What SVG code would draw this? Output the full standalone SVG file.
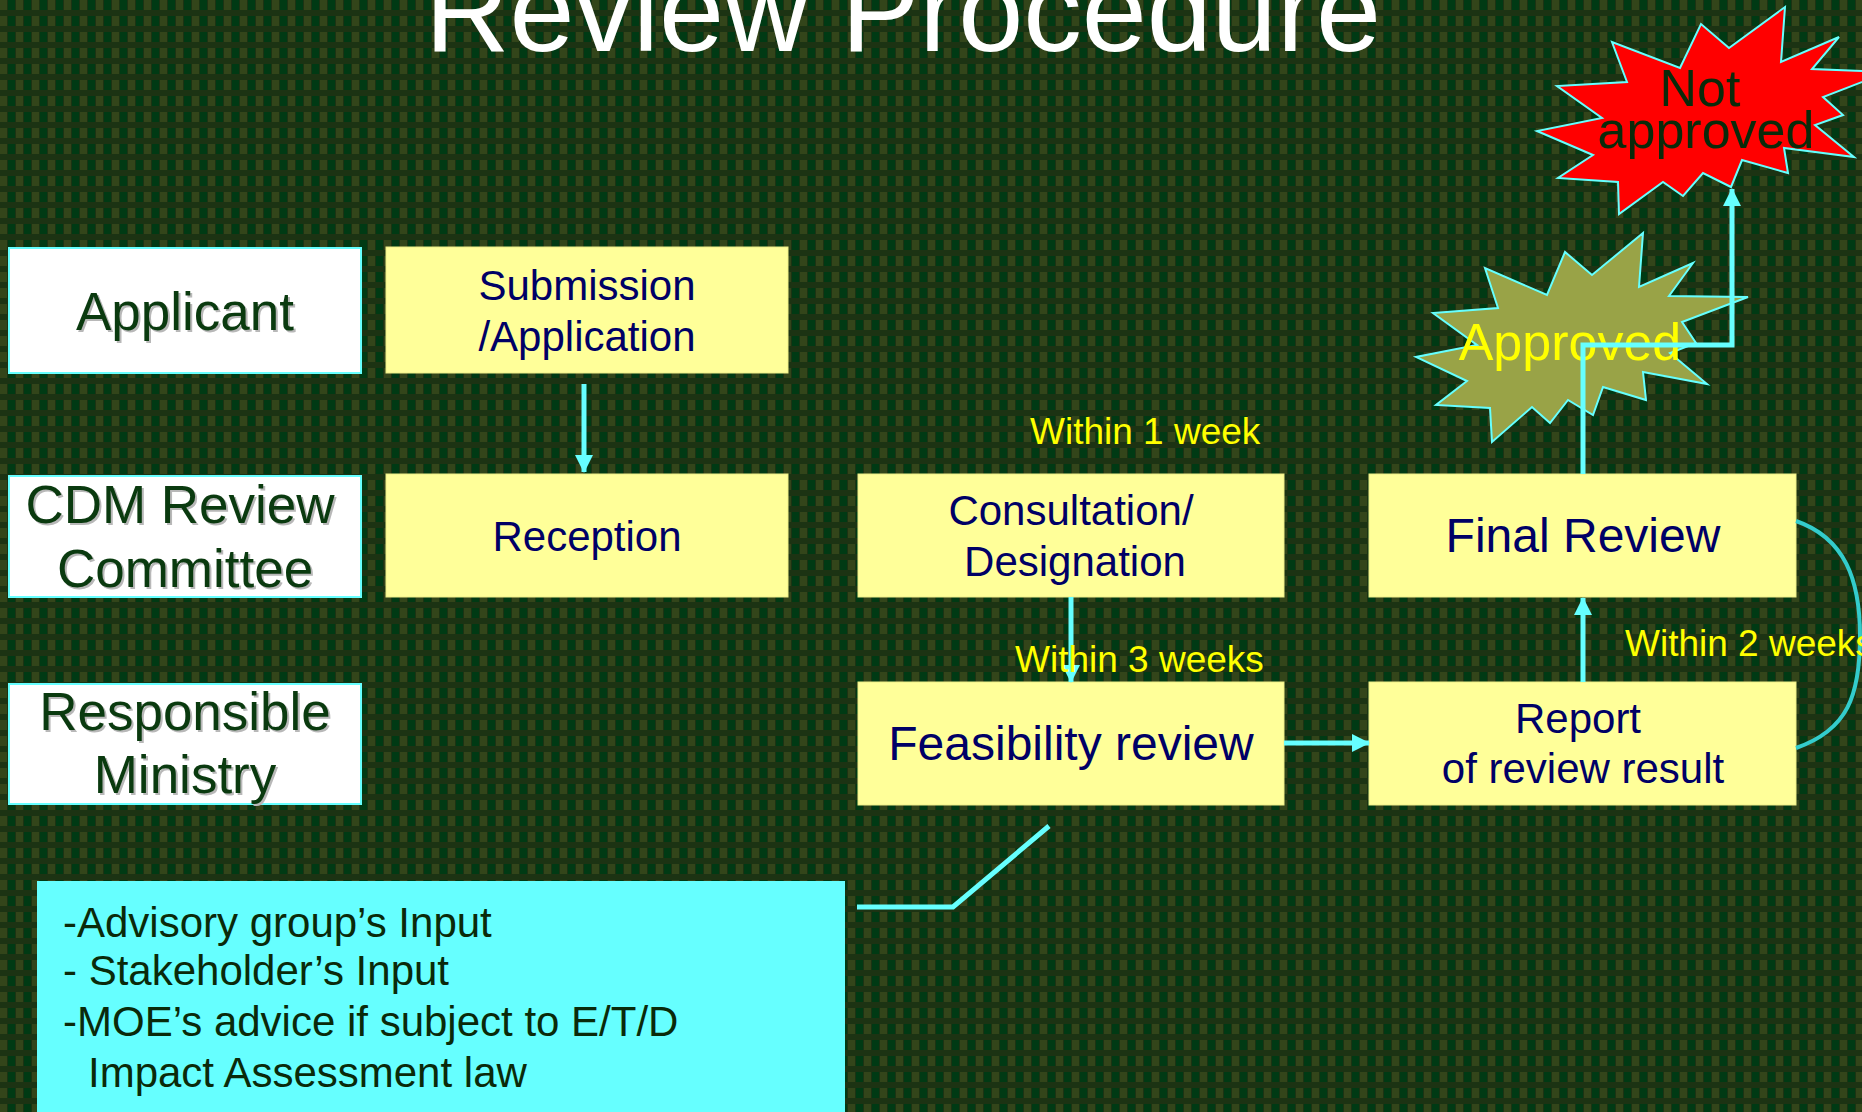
<svg xmlns="http://www.w3.org/2000/svg" width="1862" height="1112" viewBox="0 0 1862 1112">
<defs>
<pattern id="bg" x="0" y="0" width="16" height="16" patternUnits="userSpaceOnUse">
<rect width="16" height="16" fill="#1c3313"/>
<rect x="0" y="0" width="7" height="10" fill="#33451a"/>
<rect x="8" y="0" width="7" height="10" fill="#003a14"/>
</pattern>
<marker id="ah" markerUnits="userSpaceOnUse" markerWidth="18" markerHeight="18" refX="17" refY="9" orient="auto" viewBox="0 0 18 18">
<path d="M0,0 L18,9 L0,18 z" fill="#66FFFF"/>
</marker>
<style>
.lab{fill:#FFFFFF;stroke:#66FFFF;stroke-width:2}
.box{fill:#FFFF99;stroke:#EEEE88;stroke-width:1}
.lt{font-family:"Liberation Sans",Arial,sans-serif;font-size:53px;fill:#0a3a0f;text-anchor:middle}
.sh{font-family:"Liberation Sans",Arial,sans-serif;font-size:53px;fill:#b8b8b8;text-anchor:middle}
.bt{font-family:"Liberation Sans",Arial,sans-serif;font-size:42px;fill:#000066;text-anchor:middle}
.bt48{font-size:48px}
.wk{font-family:"Liberation Sans",Arial,sans-serif;font-size:37px;fill:#FFFF00}
.cn{fill:none;stroke:#66FFFF;stroke-width:5}
.nt{font-family:"Liberation Sans",Arial,sans-serif;font-size:42px;fill:#0a2a0a}
</style>
</defs>
<rect width="1862" height="1112" fill="url(#bg)"/>
<text x="903" y="51" font-family="'Liberation Sans',Arial,sans-serif" font-size="117" fill="#FFFFFF" text-anchor="middle">Review Procedure</text>

<g id="applicant">
<rect class="lab" x="9" y="248" width="352" height="125"/>
<text class="sh" x="187" y="332">Applicant</text>
<text class="lt" x="185" y="330">Applicant</text>
</g>
<g id="cdm">
<rect class="lab" x="9" y="476" width="352" height="121"/>
<text class="sh" x="182" y="525">CDM Review</text>
<text class="lt" x="180" y="523">CDM Review</text>
<text class="sh" x="187" y="589">Committee</text>
<text class="lt" x="185" y="587">Committee</text>
</g>
<g id="ministry">
<rect class="lab" x="9" y="684" width="352" height="120"/>
<text class="sh" x="187" y="732">Responsible</text>
<text class="lt" x="185" y="730">Responsible</text>
<text class="sh" x="187" y="795">Ministry</text>
<text class="lt" x="185" y="793">Ministry</text>
</g>
<g id="submission">
<rect class="box" x="386" y="247" width="402" height="126"/>
<text class="bt" x="587" y="300">Submission</text>
<text class="bt" x="587" y="351">/Application</text>
</g>
<g id="reception">
<rect class="box" x="386" y="474" width="402" height="123"/>
<text class="bt" x="587" y="551">Reception</text>
</g>
<g id="consultation">
<rect class="box" x="858" y="474" width="426" height="123"/>
<text class="bt" x="1071" y="525">Consultation/</text>
<text class="bt" x="1075" y="576">Designation</text>
</g>
<g id="final">
<rect class="box" x="1369" y="474" width="427" height="123"/>
<text class="bt bt48" x="1583" y="552">Final Review</text>
</g>
<g id="feasibility">
<rect class="box" x="858" y="682" width="426" height="123"/>
<text class="bt bt48" x="1071" y="760">Feasibility review</text>
</g>
<g id="report">
<rect class="box" x="1369" y="682" width="427" height="123"/>
<text class="bt" x="1578" y="733">Report</text>
<text class="bt" x="1583" y="783">of review result</text>
</g>
<g id="notapproved">
<polygon points="1785,7 1781,62 1839,37 1812,69 1888,72 1823,97 1843,115 1815,125 1854,157 1784,148 1788,173 1742,160 1731,187 1703,173 1683,196 1663,182 1619,214 1618,182 1558,178 1593,155 1537,131 1602,118 1557,86 1627,82 1612,42 1680,68 1701,24 1729,48" fill="#FF0000" stroke="#66FFFF" stroke-width="2"/>
<text x="1700" y="106" font-family="'Liberation Sans',Arial,sans-serif" font-size="52" fill="#0a2a0a" text-anchor="middle">Not</text>
<text x="1706" y="148" font-family="'Liberation Sans',Arial,sans-serif" font-size="52" fill="#0a2a0a" text-anchor="middle">approved</text>
</g>
<g id="approved">
<polygon points="1643,233 1639,287 1693,263 1669,296 1748,297 1682,322 1696,343 1670,353 1707,384 1643,372 1646,400 1603,387 1593,415 1568,400 1550,423 1532,407 1492,442 1490,408 1436,405 1467,381 1416,357 1477,345 1433,313 1498,308 1485,268 1547,295 1565,252 1592,275" fill="#99A347" stroke="#66FFFF" stroke-width="2"/>
<text x="1570" y="360" font-family="'Liberation Sans',Arial,sans-serif" font-size="52" fill="#FFFF00" text-anchor="middle">Approved</text>
</g>
<g id="notes">
<rect x="37" y="881" width="808" height="240" fill="#66FFFF"/>
<text class="nt" x="63" y="937">-Advisory group’s Input</text>
<text class="nt" x="63" y="985">- Stakeholder’s Input</text>
<text class="nt" x="63" y="1036">-MOE’s advice if subject to E/T/D</text>
<text class="nt" x="88" y="1087">Impact Assessment law</text>
</g>

<g id="connectors">
<line class="cn" x1="584" y1="384" x2="584" y2="472" stroke-width="4" marker-end="url(#ah)"/>
<line class="cn" x1="1071" y1="597" x2="1071" y2="682" stroke-width="4" marker-end="url(#ah)"/>
<line class="cn" x1="1284" y1="743" x2="1369" y2="743" marker-end="url(#ah)"/>
<line class="cn" x1="1583" y1="682" x2="1583" y2="598" marker-end="url(#ah)"/>
<polyline class="cn" points="1583,474 1583,345 1732,345 1732,189" marker-end="url(#ah)"/>
<path d="M1796,521 C1845,538 1860,580 1860,636 C1860,695 1848,730 1796,748" fill="none" stroke="#33CCCC" stroke-width="4"/>
<polyline class="cn" points="857,907 953,907 1049,826"/>
</g>
<g id="labels">
<text class="wk" x="1030" y="444">Within 1 week</text>
<text class="wk" x="1015" y="672">Within 3 weeks</text>
<text class="wk" x="1625" y="656">Within 2 weeks</text>
</g>
</svg>
